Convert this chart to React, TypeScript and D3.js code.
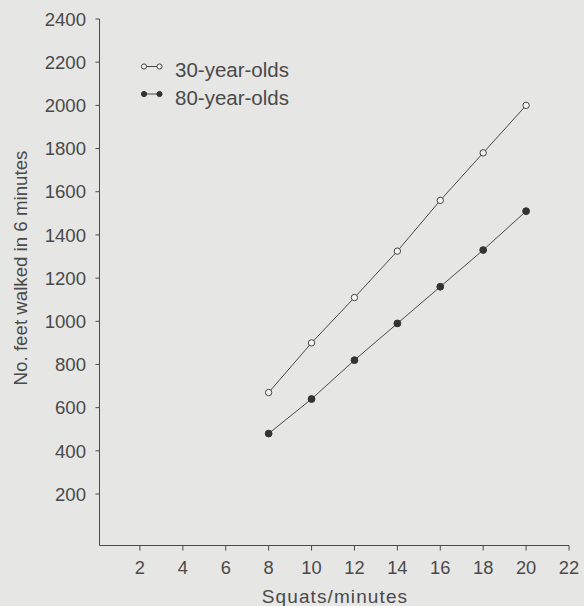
import React from "react";
import * as d3 from "d3";

const squats = [8, 10, 12, 14, 16, 18, 20];
const thirtyYearOlds = [670, 900, 1110, 1325, 1560, 1780, 2000];
const eightyYearOlds = [480, 640, 820, 990, 1160, 1330, 1510];
const xTicks = [2, 4, 6, 8, 10, 12, 14, 16, 18, 20, 22];
const yTicks = [200, 400, 600, 800, 1000, 1200, 1400, 1600, 1800, 2000, 2200, 2400];
const seriesNames = ["30-year-olds", "80-year-olds"];

const W = 584;
const H = 606;
const TEXT = "#4a4a4a";
const LINE = "#4a4a4a";
const FONT = "Liberation Sans, Arial, Helvetica, sans-serif";

export default function App() {
  const x = d3.scaleLinear().domain([0, 22]).range([97, 569]);
  const y = d3.scaleLinear().domain([0, 2400]).range([537.2, 19]);
  const axisX = 99.5;
  const axisY = 545.5;

  const line = d3
    .line<[number, number]>()
    .x((d) => x(d[0]))
    .y((d) => y(d[1]));

  const series = [
    { name: seriesNames[0], values: thirtyYearOlds, open: true },
    { name: seriesNames[1], values: eightyYearOlds, open: false },
  ];

  return (
    <svg
      width={W}
      height={H}
      style={{ position: "absolute", left: 0, top: 0, background: "#e6e6e5" }}
      fontFamily={FONT}
    >
      <rect x={0} y={0} width={W} height={H} fill="#e6e6e5" />
      {/* axes */}
      <line x1={axisX} x2={axisX} y1={y(2400)} y2={axisY} stroke={LINE} strokeWidth={1} />
      <line x1={axisX} x2={x(22)} y1={axisY} y2={axisY} stroke={LINE} strokeWidth={1} />
      {yTicks.map((t) => (
        <g key={"y" + t}>
          <line x1={axisX - 4} x2={axisX} y1={y(t)} y2={y(t)} stroke={LINE} />
          <text
            x={86}
            y={y(t)}
            dy="0.36em"
            textAnchor="end"
            fontSize={18.6}
            fill={TEXT}
          >
            {t}
          </text>
        </g>
      ))}
      {xTicks.map((t) => (
        <g key={"x" + t}>
          <line x1={x(t)} x2={x(t)} y1={axisY} y2={axisY + 5} stroke={LINE} />
          <text x={x(t)} y={574} textAnchor="middle" fontSize={18.3} fill={TEXT}>
            {t}
          </text>
        </g>
      ))}
      <text
        x={335}
        y={603}
        textAnchor="middle"
        fontSize={19}
        letterSpacing={1.1}
        fill={TEXT}
      >
        Squats/minutes
      </text>
      <text
        transform={`translate(27,268) rotate(-90)`}
        textAnchor="middle"
        fontSize={18.7}
        fill={TEXT}
      >
        No. feet walked in 6 minutes
      </text>

      {/* series */}
      {series.map((s) => {
        const pts: [number, number][] = squats.map((q, i) => [q, s.values[i]]);
        return (
          <g key={s.name}>
            <path d={line(pts) || ""} fill="none" stroke={LINE} strokeWidth={1} />
            {pts.map((p, i) => (
              <circle
                key={i}
                cx={x(p[0])}
                cy={y(p[1])}
                r={s.open ? 3.2 : 3.4}
                fill={s.open ? "#f2f2f2" : "#333"}
                stroke={s.open ? "#444" : "#333"}
                strokeWidth={1}
              />
            ))}
          </g>
        );
      })}

      {/* legend */}
      {series.map((s, i) => {
        const my = 66.5 + i * 27.5;
        const ty = 76.7 + i * 28.3;
        return (
          <g key={"leg" + i}>
            <line x1={144} x2={159.5} y1={my} y2={my} stroke={LINE} />
            <circle cx={144} cy={my} r={2.6} fill={s.open ? "#f2f2f2" : "#333"} stroke={s.open ? "#444" : "#333"} />
            <circle cx={159.5} cy={my} r={2.6} fill={s.open ? "#f2f2f2" : "#333"} stroke={s.open ? "#444" : "#333"} />
            <text x={175} y={ty} fontSize={20.5} fill={TEXT}>
              {s.name}
            </text>
          </g>
        );
      })}
    </svg>
  );
}
